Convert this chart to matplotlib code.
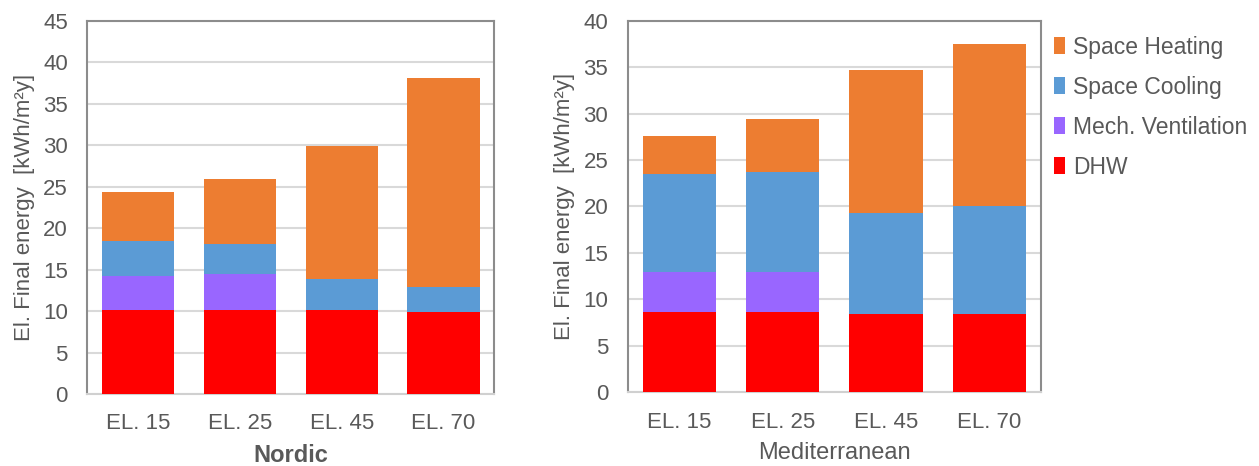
import matplotlib
matplotlib.use("Agg")
import matplotlib.pyplot as plt
import numpy as np

plt.rcParams['font.family'] = ['Liberation Sans', 'DejaVu Sans']

categories = ["EL. 15", "EL. 25", "EL. 45", "EL. 70"]
series_names = ["DHW", "Mech. Ventilation", "Space Cooling", "Space Heating"]
colors = ["#FF0000", "#9966FF", "#5B9BD5", "#ED7D31"]

# Nordic
nordic_dhw = [10.15, 10.15, 10.15, 9.95]
nordic_vent = [4.1, 4.3, 0.0, 0.0]
nordic_cool = [4.2, 3.7, 3.7, 2.95]
nordic_heat = [5.95, 7.8, 16.1, 25.25]

# Mediterranean
med_dhw = [8.65, 8.65, 8.45, 8.45]
med_vent = [4.25, 4.25, 0.0, 0.0]
med_cool = [10.6, 10.85, 10.85, 11.6]
med_heat = [4.05, 5.7, 15.4, 17.45]

nordic_ticks = list(range(0, 46, 5))
med_ticks = list(range(0, 41, 5))

text_col = "#595959"
fig = plt.figure(figsize=(12.59, 4.66), dpi=100)
ax1 = fig.add_axes([0.0693, 0.1545, 0.3233, 0.8004])
ax2 = fig.add_axes([0.4985, 0.1582, 0.3284, 0.7974])

def draw(ax, data, ticks, ymax, xlabel, bold):
    x = np.arange(len(categories))
    bottom = np.zeros(len(categories))
    handles = []
    for vals, name, c in zip(data, series_names, colors):
        h = ax.bar(x, vals, 0.71, bottom=bottom, color=c, label=name, zorder=3,
                   edgecolor='none')
        handles.append(h)
        bottom = bottom + np.array(vals)
    ax.set_xlim(-0.5, len(categories) - 0.5)
    ax.set_ylim(0, ymax)
    ax.set_yticks(ticks)
    ax.set_xticks(x)
    ax.set_xticklabels(categories)
    ax.yaxis.grid(True, color="#D9D9D9", linewidth=1.5, zorder=0)
    ax.set_axisbelow(True)
    ax.tick_params(axis='y', length=0, pad=14, labelsize=16, labelcolor=text_col)
    ax.tick_params(axis='x', length=0, pad=14, labelsize=16, labelcolor=text_col)
    for s in ['left', 'right', 'top']:
        ax.spines[s].set_color("#8C8C8C")
        ax.spines[s].set_linewidth(1.5)
    ax.spines['bottom'].set_color("#D0D0D0")
    ax.spines['bottom'].set_linewidth(1.5)
    ax.set_ylabel("El. Final energy  [kWh/m²y]", fontsize=16, color=text_col, labelpad=6)
    ax.set_xlabel(xlabel, fontsize=17, color=text_col,
                  fontweight='bold' if bold else 'normal', labelpad=7)
    return handles

draw(ax1, [nordic_dhw, nordic_vent, nordic_cool, nordic_heat], nordic_ticks, 45, "Nordic", True)
handles = draw(ax2, [med_dhw, med_vent, med_cool, med_heat], med_ticks, 40, "Mediterranean", False)

fig.legend(handles[::-1], series_names[::-1], loc='upper left',
           bbox_to_anchor=(1033 / 1259, 1 - 15 / 466), frameon=False,
           fontsize=16.5, labelcolor=text_col, handlelength=0.5, handleheight=0.8,
           handletextpad=0.35, labelspacing=0.74)

fig.savefig("out.png", dpi=100)
